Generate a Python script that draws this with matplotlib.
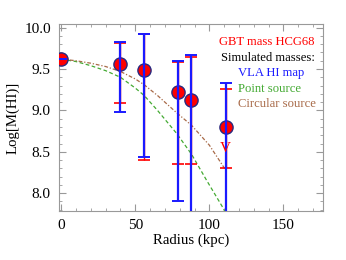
import numpy as np
import matplotlib
matplotlib.use("Agg")
import matplotlib.pyplot as plt
from matplotlib.ticker import MultipleLocator

# measured points (radius in kpc, log HI mass)
radius = [0, 39.4, 56, 78.8, 87.6, 111]
logm = [9.62, 9.56, 9.49, 9.22, 9.13, 8.80]
# VLA HI map error range
vla_hi = [9.62, 9.83, 9.92, 9.60, 9.67, 9.33]
vla_lo = [9.62, 8.985, 8.44, 7.91, 7.5, 7.5]
# GBT range (red caps)
gbt_hi = [9.62, 9.82, 9.92, 9.59, 9.65, 9.26]
gbt_lo = [9.62, 9.09, 8.40, 8.35, 8.35, 8.30]
# upper limit marker
lim_x = 111
lim_y = 8.54

# simulated curves
point_x = [0, 10, 20, 30, 40, 50, 56, 65, 78, 88, 98, 109, 111]
point_y = [9.62, 9.59, 9.54, 9.48, 9.40, 9.27, 9.18, 9.00, 8.72, 8.47, 8.16, 7.83, 7.76]
circ_x = [0, 10, 20, 30, 40, 50, 56, 65, 78, 88, 100, 111]
circ_y = [9.62, 9.60, 9.57, 9.53, 9.47, 9.38, 9.31, 9.18, 8.97, 8.82, 8.58, 8.28]

plt.rcParams['font.family'] = ['Liberation Serif', 'DejaVu Serif']

fig = plt.figure(figsize=(3.46, 2.6), dpi=100)
ax = fig.add_axes([0.171, 0.19, 0.762, 0.7165])

ax.plot(point_x, point_y, color='#44aa33', ls=(0, (3, 2)), lw=0.9, zorder=2)
ax.plot(circ_x, circ_y, color='#a86a48', ls=(0, (3, 1.5, 1, 1.5)), lw=0.9, zorder=2)

ax.plot(radius, logm, 'o', ms=9.5, mfc='red', mec='#2a2a80', mew=1.0, zorder=3)

r = np.array(radius)
m = np.array(logm)
ax.errorbar(r, m, yerr=[m - np.array(gbt_lo), np.array(gbt_hi) - m], fmt='none',
            ecolor='red', elinewidth=1.0, capsize=4, capthick=1.2, zorder=4)
ax.errorbar(r, m, yerr=[m - np.array(vla_lo), np.array(vla_hi) - m], fmt='none',
            ecolor='#1a1aff', elinewidth=1.6, capsize=4, capthick=1.4, zorder=5)
ax.text(lim_x, lim_y, 'V', color='red', fontsize=11, ha='center', va='center', zorder=6)

ax.set_xlim(-1.4, 176.6)
ax.set_ylim(7.79, 10.04)
ax.xaxis.set_major_locator(MultipleLocator(50))
ax.xaxis.set_minor_locator(MultipleLocator(10))
ax.yaxis.set_major_locator(MultipleLocator(0.5))
ax.yaxis.set_minor_locator(MultipleLocator(0.1))
ax.yaxis.set_major_formatter(matplotlib.ticker.FormatStrFormatter('%.1f'))
ax.tick_params(which='both', direction='in', top=True, right=True, color='#999999',
               labelsize=11, pad=6)
ax.tick_params(which='major', length=5, width=0.8)
ax.tick_params(which='minor', length=2.5, width=0.6)
for s in ax.spines.values():
    s.set_color('#999999')
    s.set_linewidth(0.8)

ax.set_xlabel('Radius (kpc)', fontsize=10.7, labelpad=1)
ax.set_ylabel('Log[M(HI)]', fontsize=10.7, labelpad=3)

tx = ax.transAxes
fs = 9.1
ax.text(0.97, 0.905, 'GBT mass HCG68', color='red', fontsize=fs, ha='right', va='center', transform=tx)
ax.text(0.97, 0.82, 'Simulated masses:', color='black', fontsize=fs, ha='right', va='center', transform=tx)
ax.text(0.68, 0.737, 'VLA HI map', color='#1a1aff', fontsize=fs, ha='left', va='center', transform=tx)
ax.text(0.68, 0.655, 'Point source', color='#44aa33', fontsize=fs, ha='left', va='center', transform=tx)
ax.text(0.68, 0.572, 'Circular source', color='#a86a48', fontsize=fs, ha='left', va='center', transform=tx)

fig.savefig('out.png', dpi=100)
